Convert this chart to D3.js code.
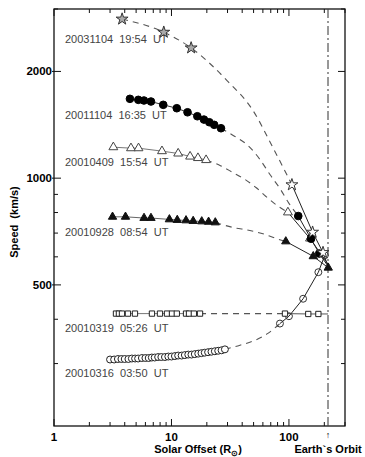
<!DOCTYPE html>
<html>
<head>
<meta charset="utf-8">
<script src="https://cdn.jsdelivr.net/npm/d3@7"></script>
<style>
body { margin: 0; background: #fff; }
text { font-family: "Liberation Sans", Arial, Helvetica, sans-serif; }
</style>
</head>
<body>
<div class="chart"></div>
<script>
var w = 365;
var h = 457;
var margin = {top: 9, right: 20, bottom: 31, left: 54};

// event labels (top to bottom)
var labels = ["20031104  19:54  UT", "20011104  16:35  UT", "20010409  15:54  UT",
              "20010928  08:54  UT", "20010319  05:26  UT", "20010316  03:50  UT"];

// 20031104 19:54 (stars)
var starX = [3.8, 8.6, 14.7];
var starV = [2810, 2580, 2330];
var starFitX = [3.8, 8.6, 14.7, 29.7, 49.4, 73, 106];
var starFitV = [2810, 2580, 2330, 1885, 1552, 1220, 958];
var starNearX = [106, 159, 195, 215];
var starNearV = [958, 704, 617, 565];

// 20011104 16:35 (filled circles)
var dotX = [4.43, 5.22, 5.83, 6.69, 8.51, 11.1, 13.7, 16.6, 18.9, 21.0, 23.1, 26.4];
var dotV = [1674, 1663, 1656, 1645, 1610, 1575, 1534, 1495, 1463, 1438, 1414, 1383];
var dotFitX = [26.4, 34.7, 44.8, 56.7, 68.9, 83.8, 100, 120];
var dotFitV = [1383, 1311, 1236, 1129, 1024, 935, 849, 782];
var dotNearX = [120, 154, 181, 215];
var dotNearV = [782, 675, 613, 565];

// 20010409 15:54 (open triangles)
var triX = [3.2, 4.52, 5.24, 8.3, 11.4, 14.4, 16.8, 19.7];
var triV = [1223, 1215, 1215, 1192, 1174, 1151, 1140, 1125];
var triFitX = [19.7, 25.9, 33.4, 42.2, 52.4, 63.7, 79, 98];
var triFitV = [1125, 1086, 1037, 992, 941, 888, 838, 801];
var triNearX = [98, 151, 215];
var triNearV = [801, 676, 572];

// 20010928 08:54 (filled triangles)
var ftriX = [3.15, 4.06, 5.84, 6.69, 9.6, 11.2, 13.3, 15.3, 18.1, 20.7, 23.6];
var ftriV = [778, 778, 772, 772, 765, 762, 760, 757, 755, 753, 750];
var ftriFitX = [23.6, 33.4, 46.5, 62.5, 77.5, 94];
var ftriFitV = [750, 726, 712, 694, 676, 663];
var ftriNearX = [94, 161, 216];
var ftriNearV = [663, 602, 559];

// 20010319 05:26 (open squares)
var sqX = [3.37, 3.57, 3.79, 4.26, 4.89, 6.82, 7.98, 9.16, 10.1, 11.1, 13.3, 14.1, 15.5, 17.5];
var sqV = [415, 415, 415, 415, 415, 415, 415, 415, 415, 415, 415, 415, 415, 415];
var sqFitX = [17.5, 40, 92.5];
var sqFitV = [415, 415, 415];
var sqNearX = [92.5, 146, 178];
var sqNearV = [415, 414, 414];
var sqEndX = [178, 215];
var sqEndV = [414, 414];

// 20010316 03:50 (open circles)
var ringX = [3.0, 3.25, 3.5, 3.75, 4.0, 4.3, 4.6, 4.9, 5.2, 5.6, 6.0, 6.4, 6.8, 7.2, 7.7, 8.2, 8.8, 9.4,
             10.0, 10.7, 11.4, 12.2, 13.0, 13.9, 14.8, 15.8, 16.9, 18.0, 19.2, 20.5, 21.9, 23.4, 25.0, 26.7, 28.5];
var ringV = [308, 308, 309, 309, 309, 309, 310, 310, 310, 311, 311, 311, 312, 312, 313, 313, 313, 314,
             314, 315, 316, 316, 317, 318, 318, 319, 320, 321, 322, 323, 324, 325, 326, 327, 329];
var ringFitX = [28.5, 38.3, 51.4, 66.2, 83.8];
var ringFitV = [329, 338, 349, 365, 389];
var ringNearX = [83.8, 100, 132, 178, 202];
var ringNearV = [389, 408, 457, 543, 606];

var yMajor = [500, 1000, 2000];
var yMinor = [300, 400, 600, 700, 800, 900, 3000];
var xMajor = [1, 10, 100];
var xMinor = [2, 3, 4, 5, 6, 7, 8, 9, 20, 30, 40, 50, 60, 70, 80, 90, 200, 300];
var earthOrbit = 215;

var svg = d3.select(".chart")
            .append("svg")
            .attr("width", w)
            .attr("height", h);

var x = d3.scaleLog().domain([1, 300]).range([margin.left, w - margin.right]);
var y = d3.scaleLog().domain([200, 3000]).range([h - margin.bottom, margin.top]);

var x0 = x.range()[0], x1 = x.range()[1], y0 = y.range()[0], y1 = y.range()[1];

// frame
svg.append("rect")
   .attr("x", x0).attr("y", y1)
   .attr("width", x1 - x0).attr("height", y0 - y1)
   .attr("fill", "none").attr("stroke", "#111").attr("stroke-width", 1.3);

// ticks on all four sides, pointing in
var tk = svg.append("g").attr("stroke", "#111").attr("stroke-width", 1);
xMajor.concat(xMinor).forEach(function(v) {
  var len = xMajor.indexOf(v) >= 0 ? 7 : 4;
  tk.append("line").attr("x1", x(v)).attr("x2", x(v)).attr("y1", y0).attr("y2", y0 - len);
  tk.append("line").attr("x1", x(v)).attr("x2", x(v)).attr("y1", y1).attr("y2", y1 + len);
});
yMajor.concat(yMinor).forEach(function(v) {
  var major = yMajor.indexOf(v) >= 0;
  var len = major ? 7 : 4;
  tk.append("line").attr("x1", x0 - (major ? 2 : 0)).attr("x2", x0 + len).attr("y1", y(v)).attr("y2", y(v));
  tk.append("line").attr("x1", x1).attr("x2", x1 - len).attr("y1", y(v)).attr("y2", y(v));
});

// tick labels
svg.selectAll(".xl").data(xMajor).enter().append("text")
   .attr("x", (d) => x(d)).attr("y", 441)
   .attr("text-anchor", "middle").attr("font-size", "11.5px").attr("font-weight", "bold")
   .text((d) => d);
svg.selectAll(".yl").data(yMajor).enter().append("text")
   .attr("x", x0 - 2).attr("y", (d) => y(d) + 4)
   .attr("text-anchor", "end").attr("font-size", "11.5px").attr("font-weight", "bold")
   .text((d) => d);

// axis titles
svg.append("text")
   .attr("transform", "translate(18," + 222 + ") rotate(-90)")
   .attr("text-anchor", "middle").attr("font-size", "11px").attr("font-weight", "bold")
   .style("white-space", "pre")
   .text("Speed  (km/s)");
var xt = svg.append("text")
   .attr("x", 198).attr("y", 453)
   .attr("text-anchor", "middle").attr("font-size", "11px").attr("font-weight", "bold");
xt.append("tspan").text("Solar Offset (R");
xt.append("tspan").attr("font-size", "8px").attr("dy", 3).text("\u2299");
xt.append("tspan").attr("dy", -3).text(")");
svg.append("text")
   .attr("x", 328).attr("y", 453)
   .attr("text-anchor", "middle").attr("font-size", "11px").attr("font-weight", "bold")
   .text("Earth`s Orbit");
svg.append("text")
   .attr("x", x(earthOrbit)).attr("y", 438)
   .attr("text-anchor", "middle").attr("font-size", "9px").attr("font-weight", "bold")
   .text("\u2191");

// Earth's orbit line
svg.append("line")
   .attr("x1", x(earthOrbit)).attr("x2", x(earthOrbit))
   .attr("y1", y1).attr("y2", y0)
   .attr("stroke", "#444").attr("stroke-width", 1.1)
   .attr("stroke-dasharray", "9,3,2,3");

// event labels
var labelY = [43, 119, 166, 236, 332, 377];
svg.selectAll(".lab").data(labels).enter().append("text")
   .attr("x", 65).attr("y", (d, i) => labelY[i])
   .attr("font-size", "11px").attr("fill", "#444")
   .style("white-space", "pre")
   .text((d) => d);

var line = d3.line().x((d) => x(d[0])).y((d) => y(d[1])).curve(d3.curveMonotoneX);
var poly = d3.line().x((d) => x(d[0])).y((d) => y(d[1]));
var zip = (a, b) => a.map((v, i) => [v, b[i]]);

function dashed(xs, vs) {
  svg.append("path").datum(zip(xs, vs)).attr("d", line)
     .attr("fill", "none").attr("stroke", "#555").attr("stroke-width", 1.1)
     .attr("stroke-dasharray", "6,5");
}
function solid(xs, vs, col) {
  svg.append("path").datum(zip(xs, vs)).attr("d", poly)
     .attr("fill", "none").attr("stroke", col || "#222").attr("stroke-width", 1);
}
function marks(xs, vs, type, size, fill, stroke) {
  svg.append("g").selectAll("path").data(zip(xs, vs)).enter().append("path")
     .attr("transform", (d) => "translate(" + x(d[0]) + "," + y(d[1]) + ")")
     .attr("d", d3.symbol().type(type).size(size))
     .attr("fill", fill).attr("stroke", stroke).attr("stroke-width", 1);
}

// fits
dashed(starFitX, starFitV);
dashed(dotFitX, dotFitV);
dashed(triFitX, triFitV);
dashed(ftriFitX, ftriFitV);
dashed(sqFitX, sqFitV);
dashed(ringFitX, ringFitV);

// data runs
solid(dotX, dotV, "#333");
solid(triX, triV, "#777");
solid(ftriX, ftriV, "#666");
solid(sqX, sqV, "#777");
solid(ringX, ringV, "#777");

// near-Earth runs
solid(ringNearX, ringNearV);
solid(sqNearX, sqNearV, "#555");
solid(sqEndX, sqEndV, "#555");
solid(triNearX, triNearV);
solid(ftriNearX, ftriNearV);
solid(dotNearX, dotNearV);
solid(starNearX, starNearV);

// markers
marks(ringX, ringV, d3.symbolCircle, 38, "#fff", "#222");
marks(ringNearX, ringNearV, d3.symbolCircle, 38, "none", "#333");
marks(sqX, sqV, d3.symbolSquare, 28, "#fff", "#222");
marks(sqNearX, sqNearV, d3.symbolSquare, 28, "#fff", "#222");
marks(ftriX, ftriV, d3.symbolTriangle, 30, "#111", "#111");
marks(triX, triV, d3.symbolTriangle, 34, "#fff", "#444");
marks(triNearX.slice(0, 2), triNearV.slice(0, 2), d3.symbolTriangle, 34, "#fff", "#444");
marks(dotX, dotV, d3.symbolCircle, 46, "#000", "#000");
marks(dotNearX.slice(0, 3), dotNearV.slice(0, 3), d3.symbolCircle, 46, "#000", "#000");
marks(starX, starV, d3.symbolStar, 44, "#aaa", "#333");
marks(starNearX.slice(0, 3), starNearV.slice(0, 3), d3.symbolStar, 44, "#fff", "#333");
marks(ftriNearX, ftriNearV, d3.symbolTriangle, 30, "#111", "#111");
</script>
</body>
</html>
